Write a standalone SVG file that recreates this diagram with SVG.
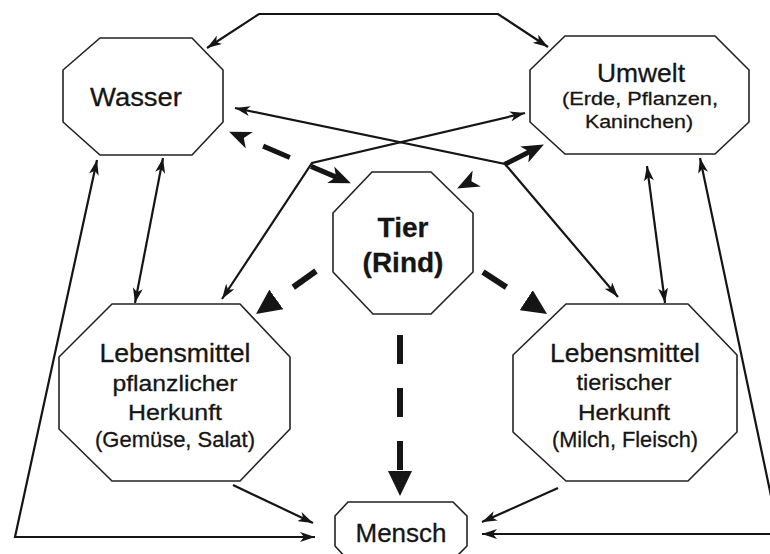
<svg xmlns="http://www.w3.org/2000/svg" width="770" height="554" viewBox="0 0 770 554">
<style>
.node{fill:#fff;stroke:#222;stroke-width:1.6;stroke-linejoin:miter}
.t{font-family:"Liberation Sans",Arial,sans-serif;fill:#151515;stroke:#151515;stroke-width:0.3;text-anchor:middle}
.big{font-size:26px}
.small{font-size:22px}
.sub{font-size:19px}
.bold{font-size:28px;font-weight:bold}
.c{fill:none;stroke:#151515;stroke-width:2.2}
.d{fill:none;stroke:#151515;stroke-width:6}
.d2{fill:none;stroke:#151515;stroke-width:5}
</style>
<defs>
<marker id="a" viewBox="0 0 15 10" refX="15" refY="5" markerWidth="15" markerHeight="10" markerUnits="userSpaceOnUse" orient="auto-start-reverse"><path d="M0,0 L15,5 L0,10 L4,5 z" fill="#151515"/></marker>
<marker id="tri" viewBox="0 0 25 24" refX="1" refY="12" markerWidth="25" markerHeight="24" markerUnits="userSpaceOnUse" orient="auto-start-reverse"><path d="M0,0 L25,12 L0,24 z" fill="#151515"/></marker>
<marker id="b" viewBox="0 0 22 18" refX="6" refY="9" markerWidth="22" markerHeight="18" markerUnits="userSpaceOnUse" orient="auto-start-reverse"><path d="M0,0 L22,9 L0,18 L6,9 z" fill="#151515"/></marker>
</defs>
<rect width="770" height="554" fill="#fff"/>

<g id="connectors">
<path class="c" d="M207,48 L259,14 L498,14 L548,47" marker-start="url(#a)" marker-end="url(#a)"/>
<path class="c" d="M235,108 L505,164 L618,297" marker-start="url(#a)" marker-end="url(#a)"/>
<path class="c" d="M525,113 L312,163 L222,299" marker-start="url(#a)" marker-end="url(#a)"/>
<path class="c" d="M163,158 L135,303" marker-start="url(#a)" marker-end="url(#a)"/>
<path class="c" d="M97,160 L15,537 L315,537" marker-start="url(#a)" marker-end="url(#a)"/>
<path class="c" d="M233,485 L313,523" marker-end="url(#a)"/>
<path class="c" d="M558,488 L482,522" marker-end="url(#a)"/>
<path class="c" d="M700,158 L779,534 L482,534" marker-start="url(#a)" marker-end="url(#a)"/>
<path class="c" d="M647,166 L665,303" marker-start="url(#a)" marker-end="url(#a)"/>
<path class="d2" d="M243.8,137.9 L336.2,177.1" stroke-dasharray="0 21 29 23 60" marker-start="url(#b)" marker-end="url(#b)"/>
<path class="d2" d="M471.4,181.2 L529.6,151.8" stroke-dasharray="0 37 40" marker-start="url(#b)" marker-end="url(#b)"/>
<path class="d" d="M400,335 L400,472" stroke-dasharray="29 24" marker-end="url(#tri)"/>
<path class="d" d="M316,271 L275.5,300" stroke-dasharray="28 40" marker-end="url(#tri)"/>
<path class="d" d="M483,272 L527,300.8" stroke-dasharray="28 40" marker-end="url(#tri)"/>
</g>

<g id="wasser">
<polygon class="node" points="100,38 192,38 223,70 223,122 192,155 100,155 63,122 63,70"/>
<text class="t big" x="136" y="106" textLength="92" lengthAdjust="spacingAndGlyphs">Wasser</text>
</g>

<g id="umwelt">
<polygon class="node" points="565,36 715,36 749,70 749,122 715,154 565,154 530,122 530,70"/>
<text class="t big" x="641" y="82" textLength="88" lengthAdjust="spacingAndGlyphs">Umwelt</text>
<text class="t sub" x="640" y="105" textLength="156" lengthAdjust="spacingAndGlyphs">(Erde, Pflanzen,</text>
<text class="t sub" x="639" y="128" textLength="108" lengthAdjust="spacingAndGlyphs">Kaninchen)</text>
</g>

<g id="tier">
<polygon class="node" points="372,172 431,172 473,213 473,272 431,314 373,314 333,272 333,213"/>
<text class="t bold" x="403" y="237">Tier</text>
<text class="t bold" x="403" y="272">(Rind)</text>
</g>

<g id="lebensmittel-pflanzlich">
<polygon class="node" points="112,304 240,304 290,357 290,429 240,481 112,481 59,429 59,357"/>
<text class="t big" x="175" y="362" textLength="151" lengthAdjust="spacingAndGlyphs">Lebensmittel</text>
<text class="t small" x="175" y="391" textLength="125" lengthAdjust="spacingAndGlyphs">pflanzlicher</text>
<text class="t small" x="175" y="420" textLength="94" lengthAdjust="spacingAndGlyphs">Herkunft</text>
<text class="t small" x="175" y="447" textLength="160" lengthAdjust="spacingAndGlyphs">(Gemüse, Salat)</text>
</g>

<g id="lebensmittel-tierisch">
<polygon class="node" points="566,304 688,304 737,355 737,432 688,481 566,481 513,432 513,355"/>
<text class="t big" x="625" y="362" textLength="150" lengthAdjust="spacingAndGlyphs">Lebensmittel</text>
<text class="t small" x="624" y="390" textLength="95" lengthAdjust="spacingAndGlyphs">tierischer</text>
<text class="t small" x="624" y="420" textLength="92" lengthAdjust="spacingAndGlyphs">Herkunft</text>
<text class="t small" x="625" y="447" textLength="146" lengthAdjust="spacingAndGlyphs">(Milch, Fleisch)</text>
</g>

<g id="mensch">
<polygon class="node" points="348,502 453,502 467,516 467,546 453,560 348,560 335,546 335,516"/>
<text class="t big" x="401" y="542" textLength="91" lengthAdjust="spacingAndGlyphs">Mensch</text>
</g>
</svg>
